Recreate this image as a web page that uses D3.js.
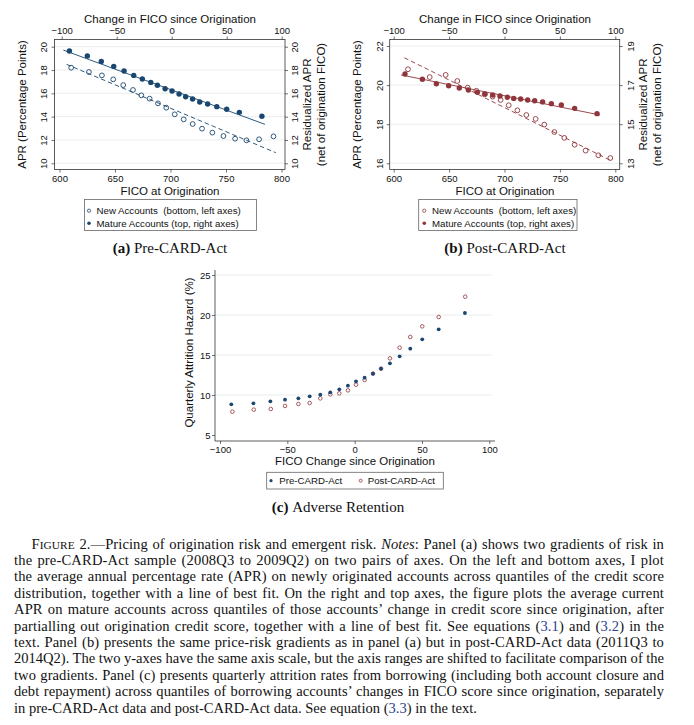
<!DOCTYPE html>
<html lang="en">
<head>
<meta charset="UTF-8">
<title>Figure 2 - Pricing of origination risk and emergent risk</title>
<script src="https://d3js.org/d3.v7.min.js"></script>
<style>
  body { margin: 0; background: #fff; }
  svg text { font-family: "Liberation Sans", Arial, sans-serif; fill: #111; }
  .tick text { font-size: 9.5px; }
  .ttl { font-size: 11.5px; }
  .leg { font-size: 9.7px; white-space: pre; }
  .sub { font-family: "Liberation Serif", "Times New Roman", serif; font-size: 15px; }
  .cap { font-family: "Liberation Serif", "Times New Roman", serif; font-size: 14px; }
  .grid { stroke: #e4e8ea; stroke-width: 0.8; }
  .tick line { stroke: #333; stroke-width: 0.7; }
</style>
</head>
<body>
<script>
// ---- panel (a) pre-CARD-Act ----
const ficoNewA   = [610.5, 626.5, 638.2, 648.4, 657.4, 666.2, 673.7, 681.2, 688.7, 696.2, 703.8, 711.9, 720, 728.4, 737.7, 747.7, 758.2, 768.4, 779.8, 792.8];
const aprNewA    = [18.2, 17.83, 17.54, 17.2, 16.71, 16.29, 15.83, 15.54, 15.14, 14.77, 14.2, 13.77, 13.37, 12.97, 12.63, 12.34, 12.11, 11.97, 12.06, 12.31];
const dFicoMatA  = [-93, -76.7, -64, -52.7, -43.3, -34.5, -26.7, -19, -13, -6, 0.3, 6.7, 12.7, 19, 25.5, 32.7, 41, 50, 61.5, 82];
const aprMatA    = [19.63, 19.2, 18.74, 18.31, 17.91, 17.54, 17.23, 16.94, 16.69, 16.4, 16.2, 15.94, 15.71, 15.51, 15.26, 15.09, 14.86, 14.63, 14.37, 14.03];
const fitNewA    = [[606.3, 18.49], [794.9, 10.91]];
const fitMatA    = [[-98.5, 19.71], [84.8, 13.34]];

// ---- panel (b) post-CARD-Act ----
const ficoNewB   = [612.9, 632.5, 646.9, 657.4, 666.8, 674.6, 682.1, 689.3, 696.5, 703.8, 711.6, 719.7, 728.1, 735.9, 745, 754, 763.3, 773.2, 784.7, 795.5];
const aprNewB    = [20.81, 20.41, 20.52, 20.21, 19.87, 19.71, 19.53, 19.41, 19.24, 18.97, 18.71, 18.47, 18.27, 17.98, 17.6, 17.3, 16.95, 16.65, 16.41, 16.27];
const dFicoMatB  = [-89.8, -74.1, -61.5, -50.4, -40.8, -32.6, -24.5, -17.6, -10.7, -4.1, 2.6, 8.3, 14.6, 20.9, 27.2, 34.4, 42.3, 51.3, 63.3, 83.5];
const aprMatB    = [17.57, 17.3, 17.07, 16.97, 16.85, 16.75, 16.63, 16.55, 16.49, 16.44, 16.38, 16.32, 16.29, 16.24, 16.2, 16.14, 16.05, 15.98, 15.81, 15.54];
const fitNewB    = [[609.6, 21.4], [796.7, 16.12]];
const fitMatB    = [[-93.4, 17.52], [86.2, 15.47]];

// ---- panel (c) adverse retention ----
const dFicoPre   = [-91.6, -75.2, -62.6, -51.7, -41.8, -33.4, -25.5, -18.1, -11.4, -5, 1, 7.4, 13.6, 19.6, 26.2, 33.4, 41.3, 50.2, 62.4, 81.9];
const hazardPre  = [8.83, 8.96, 9.21, 9.42, 9.58, 9.83, 10.04, 10.33, 10.71, 11.17, 11.71, 12.17, 12.67, 13.29, 13.96, 14.83, 15.79, 16.96, 18.21, 20.25];
const dFicoPost  = [-90.8, -74.9, -62.3, -51.7, -41.8, -33.4, -25.5, -18.1, -11.4, -5, 1, 7.4, 13.6, 19.6, 26.2, 33.4, 41.3, 50.2, 62.4, 82.1];
const hazardPost = [7.92, 8.17, 8.25, 8.63, 8.88, 9.0, 9.58, 10.08, 10.21, 10.58, 11.29, 11.88, 12.67, 13.29, 14.58, 15.92, 17.25, 18.58, 19.75, 22.29];

// tick labels
const ficoTicks  = [600, 650, 700, 750, 800];
const dFicoTicks = [-100, -50, 0, 50, 100];
const aprTicksA  = [10, 12, 14, 16, 18, 20];
const aprTicksBL = [16, 18, 20, 22];
const aprTicksBR = [13, 15, 17, 19];
const hazTicks   = [5, 10, 15, 20, 25];

const navy = "#1a476f", maroon = "#90353b";
const fmt = d3.format("d");

const svg = d3.select("body").append("svg").attr("width", 694).attr("height", 725);

const panels = [
  {
    frame: {x0: 54.5, x1: 285, y0: 39.5, y1: 169.5},
    xB: d3.scaleLinear().domain([600, 800]).range([59.5, 281.5]),
    xT: d3.scaleLinear().domain([-100, 100]).range([61.7, 281.7]),
    yL: d3.scaleLinear().domain([10, 20]).range([163.3, 46.7]),
    yR: d3.scaleLinear().domain([10, 20]).range([163.3, 46.7]),
    ticksL: aprTicksA, ticksR: aprTicksA, color: navy,
    newX: ficoNewA, newY: aprNewA, matX: dFicoMatA, matY: aprMatA, fitNew: fitNewA, fitMat: fitMatA,
    lLabX: 43.3, lTitX: 21.7, rLabX: 295, rTitX: [306.7, 320.7], cx: 170,
    legend: {x0: 84.5, x1: 256.5, y0: 199.5, y1: 230.5, mx: 89, tx: 96.5},
    tag: "(a)", name: "Pre-CARD-Act"
  },
  {
    frame: {x0: 389.7, x1: 619.7, y0: 39.5, y1: 169.5},
    xB: d3.scaleLinear().domain([600, 800]).range([393.7, 615.3]),
    xT: d3.scaleLinear().domain([-100, 100]).range([393.7, 615.3]),
    yL: d3.scaleLinear().domain([16, 22]).range([163.3, 46]),
    yR: d3.scaleLinear().domain([13, 19]).range([163.3, 46]),
    ticksL: aprTicksBL, ticksR: aprTicksBR, color: maroon,
    newX: ficoNewB, newY: aprNewB, matX: dFicoMatB, matY: aprMatB, fitNew: fitNewB, fitMat: fitMatB,
    lLabX: 380, lTitX: 357, rLabX: 630.3, rTitX: [643, 657], cx: 505,
    legend: {x0: 418.7, x1: 577, y0: 199.5, y1: 230.5, mx: 424.3, tx: 432},
    tag: "(b)", name: "Post-CARD-Act"
  }
];

function rotLabels(g, dx) {
  g.selectAll(".tick text")
    .attr("x", null).attr("y", null).attr("dy", null)
    .attr("text-anchor", "middle")
    .attr("transform", `translate(${dx},0) rotate(-90)`);
}

panels.forEach(p => {
  const f = p.frame;
  const g = svg.append("g");

  // gridlines at left ticks
  g.selectAll("line.grid").data(p.ticksL).join("line").attr("class", "grid")
    .attr("x1", f.x0).attr("x2", f.x1).attr("y1", d => p.yL(d)).attr("y2", d => p.yL(d));

  // axes
  g.append("g").attr("transform", `translate(0,${f.y1})`)
    .call(d3.axisBottom(p.xB).tickValues(ficoTicks).tickFormat(fmt).tickSize(3).tickSizeOuter(0).tickPadding(2.5))
    .call(a => a.select(".domain").remove());
  g.append("g").attr("transform", `translate(0,${f.y0})`)
    .call(d3.axisTop(p.xT).tickValues(dFicoTicks).tickFormat(fmt).tickSize(3).tickSizeOuter(0).tickPadding(2.5))
    .call(a => a.select(".domain").remove());
  g.append("g").attr("transform", `translate(${f.x0},0)`)
    .call(d3.axisLeft(p.yL).tickValues(p.ticksL).tickFormat(fmt).tickSize(3).tickSizeOuter(0))
    .call(a => a.select(".domain").remove())
    .call(a => rotLabels(a, p.lLabX - f.x0 + 3.3));
  g.append("g").attr("transform", `translate(${f.x1},0)`)
    .call(d3.axisRight(p.yR).tickValues(p.ticksR).tickFormat(fmt).tickSize(3).tickSizeOuter(0))
    .call(a => a.select(".domain").remove())
    .call(a => rotLabels(a, p.rLabX - f.x1 + 3.3));
  g.selectAll(".tick text").attr("fill", "#111");

  g.append("rect").attr("x", f.x0).attr("y", f.y0)
    .attr("width", f.x1 - f.x0).attr("height", f.y1 - f.y0)
    .attr("fill", "none").attr("stroke", "#333").attr("stroke-width", 0.8);

  // titles
  g.append("text").attr("class", "ttl").attr("x", p.cx).attr("y", 22.5)
    .attr("text-anchor", "middle").text("Change in FICO since Origination");
  g.append("text").attr("class", "ttl").attr("x", p.cx).attr("y", 195)
    .attr("text-anchor", "middle").text("FICO at Origination");
  g.append("text").attr("class", "ttl").attr("text-anchor", "middle")
    .attr("transform", `translate(${p.lTitX + 4},104.5) rotate(-90)`).text("APR (Percentage Points)");
  g.append("text").attr("class", "ttl").attr("text-anchor", "middle")
    .attr("transform", `translate(${p.rTitX[0] + 4},104.5) rotate(-90)`).text("Residualized APR");
  g.append("text").attr("class", "ttl").attr("text-anchor", "middle")
    .attr("transform", `translate(${p.rTitX[1] + 4},104.5) rotate(-90)`).text("(net of origination FICO)");

  // fit lines
  g.append("line")
    .attr("x1", p.xB(p.fitNew[0][0])).attr("y1", p.yL(p.fitNew[0][1]))
    .attr("x2", p.xB(p.fitNew[1][0])).attr("y2", p.yL(p.fitNew[1][1]))
    .attr("stroke", p.color).attr("stroke-width", 0.9).attr("stroke-dasharray", "4.5,3");
  g.append("line")
    .attr("x1", p.xT(p.fitMat[0][0])).attr("y1", p.yR(p.fitMat[0][1]))
    .attr("x2", p.xT(p.fitMat[1][0])).attr("y2", p.yR(p.fitMat[1][1]))
    .attr("stroke", p.color).attr("stroke-width", 0.9);

  // points
  g.selectAll("circle.new").data(p.newX).join("circle").attr("class", "new")
    .attr("cx", d => p.xB(d)).attr("cy", (d, i) => p.yL(p.newY[i])).attr("r", 2.4)
    .attr("fill", "none").attr("stroke", p.color).attr("stroke-width", 0.9);
  g.selectAll("circle.mat").data(p.matX).join("circle").attr("class", "mat")
    .attr("cx", d => p.xT(d)).attr("cy", (d, i) => p.yR(p.matY[i])).attr("r", 2.7)
    .attr("fill", p.color);

  // legend
  const L = p.legend;
  g.append("rect").attr("x", L.x0).attr("y", L.y0).attr("width", L.x1 - L.x0).attr("height", L.y1 - L.y0)
    .attr("fill", "#fff").attr("stroke", "#666").attr("stroke-width", 0.8);
  g.append("circle").attr("cx", L.mx).attr("cy", 210.7).attr("r", 1.6)
    .attr("fill", "none").attr("stroke", p.color).attr("stroke-width", 0.8);
  g.append("circle").attr("cx", L.mx).attr("cy", 223.3).attr("r", 1.8).attr("fill", p.color);
  g.append("text").attr("class", "leg").attr("x", L.tx).attr("y", 214).text("New Accounts  (bottom, left axes)");
  g.append("text").attr("class", "leg").attr("x", L.tx).attr("y", 226.6).text("Mature Accounts (top, right axes)");

  // subtitle
  const s = g.append("text").attr("class", "sub").attr("x", p.cx).attr("y", 252.5).attr("text-anchor", "middle");
  s.append("tspan").attr("font-weight", "bold").text(p.tag + " ");
  s.append("tspan").text(p.name);
});

// ---- panel (c) ----
const xc = d3.scaleLinear().domain([-100, 100]).range([220, 489.3]);
const yc = d3.scaleLinear().domain([5, 25]).range([435, 275]);
const gc = svg.append("g");
gc.selectAll("line.grid").data(hazTicks.slice(1)).join("line").attr("class", "grid")
  .attr("x1", 215).attr("x2", 492).attr("y1", d => yc(d)).attr("y2", d => yc(d));
gc.append("g").attr("transform", "translate(0,441)")
  .call(d3.axisBottom(xc).tickValues(dFicoTicks).tickFormat(fmt).tickSize(3).tickSizeOuter(0).tickPadding(1.8))
  .call(a => a.select(".domain").remove());
gc.append("g").attr("transform", "translate(215,0)")
  .call(d3.axisLeft(yc).tickValues(hazTicks).tickFormat(fmt).tickSize(3).tickSizeOuter(0).tickPadding(1.5))
  .call(a => a.select(".domain").remove());
gc.selectAll(".tick text").attr("fill", "#111");
gc.append("line").attr("x1", 215).attr("x2", 215).attr("y1", 270).attr("y2", 441).attr("stroke", "#333").attr("stroke-width", 0.8);
gc.append("line").attr("x1", 215).attr("x2", 495).attr("y1", 441).attr("y2", 441).attr("stroke", "#333").attr("stroke-width", 0.8);

gc.append("text").attr("class", "ttl").attr("text-anchor", "middle")
  .attr("transform", "translate(192.5,352.5) rotate(-90)").text("Quarterly Attrition Hazard (%)");
gc.append("text").attr("class", "ttl").attr("x", 355).attr("y", 465).attr("text-anchor", "middle")
  .text("FICO Change since Origination");

gc.selectAll("circle.post").data(dFicoPost).join("circle").attr("class", "post")
  .attr("cx", d => xc(d)).attr("cy", (d, i) => yc(hazardPost[i])).attr("r", 1.8)
  .attr("fill", "none").attr("stroke", maroon).attr("stroke-width", 0.8);
gc.selectAll("circle.pre").data(dFicoPre).join("circle").attr("class", "pre")
  .attr("cx", d => xc(d)).attr("cy", (d, i) => yc(hazardPre[i])).attr("r", 1.9)
  .attr("fill", navy);

gc.append("rect").attr("x", 266.7).attr("y", 472.3).attr("width", 176.6).attr("height", 16.7)
  .attr("fill", "#fff").attr("stroke", "#666").attr("stroke-width", 0.8);
gc.append("circle").attr("cx", 271).attr("cy", 480.7).attr("r", 1.6).attr("fill", navy);
gc.append("text").attr("class", "leg").attr("x", 279.3).attr("y", 484).text("Pre-CARD-Act");
gc.append("circle").attr("cx", 360.7).attr("cy", 480.7).attr("r", 1.5)
  .attr("fill", "none").attr("stroke", maroon).attr("stroke-width", 0.8);
gc.append("text").attr("class", "leg").attr("x", 367.7).attr("y", 484).text("Post-CARD-Act");

const sc = gc.append("text").attr("class", "sub").attr("x", 338).attr("y", 512).attr("text-anchor", "middle");
sc.append("tspan").attr("font-weight", "bold").text("(c) ");
sc.append("tspan").text("Adverse Retention");

// ---- caption (justified lines) ----
const captionLines = [
  [["F", "sc0"], ["IGURE", "sc"], [" 2.\u2014Pricing of origination risk and emergent risk. "], ["Notes", "i"], [": Panel (a) shows two gradients of risk in"]],
  [["the pre-CARD-Act sample (2008Q3 to 2009Q2) on two pairs of axes. On the left and bottom axes, I plot"]],
  [["the average annual percentage rate (APR) on newly originated accounts across quantiles of the credit score"]],
  [["distribution, together with a line of best fit. On the right and top axes, the figure plots the average current"]],
  [["APR on mature accounts across quantiles of those accounts\u2019 change in credit score since origination, after"]],
  [["partialling out origination credit score, together with a line of best fit. See equations ("], ["3.1", "b"], [") and ("], ["3.2", "b"], [") in the"]],
  [["text. Panel (b) presents the same price-risk gradients as in panel (a) but in post-CARD-Act data (2011Q3 to"]],
  [["2014Q2). The two y-axes have the same axis scale, but the axis ranges are shifted to facilitate comparison of the"]],
  [["two gradients. Panel (c) presents quarterly attrition rates from borrowing (including both account closure and"]],
  [["debt repayment) across quantiles of borrowing accounts\u2019 changes in FICO score since origination, separately"]],
  [["in pre-CARD-Act data and post-CARD-Act data. See equation ("], ["3.3", "b"], [") in the text."]]
];

const capTexts = captionLines.map((segs, i) => {
  const x0 = i === 0 ? 31.5 : 14;
  const t = svg.append("text").attr("class", "cap").attr("x", x0).attr("y", 548.5 + i * 16.4);
  segs.forEach(([s, st]) => {
    const ts = t.append("tspan").text(s);
    if (st === "i") ts.attr("font-style", "italic");
    if (st === "b") ts.attr("fill", "#2b3f91");
    if (st === "sc") ts.attr("class", "scaps");
  });
  return {t, segs, x0};
});

// pick a font size so the tightest line just fits, then justify each line
const widest = d3.max(capTexts.slice(0, -1), d => d.t.node().getComputedTextLength() / (664 - d.x0));
const capSize = 14 / widest * 1.005;
svg.selectAll("text.cap").style("font-size", capSize + "px");
svg.selectAll("tspan.scaps").style("font-size", (capSize * 0.78) + "px");
capTexts.forEach(({t, segs, x0}, i) => {
  if (i === capTexts.length - 1) return;
  const str = segs.map(d => d[0]).join("");
  const nSp = str.split(" ").length - 1;
  const extra = 664 - x0 - t.node().getComputedTextLength();
  // spread part of the slack over letters, the rest over word gaps
  const ls = Math.max(-0.1, Math.min(0.3, extra * 0.4 / str.length));
  t.style("letter-spacing", ls + "px");
  const w = t.node().getComputedTextLength();
  t.style("word-spacing", ((664 - x0 - w) / nSp) + "px");
});
</script>
</body>
</html>
